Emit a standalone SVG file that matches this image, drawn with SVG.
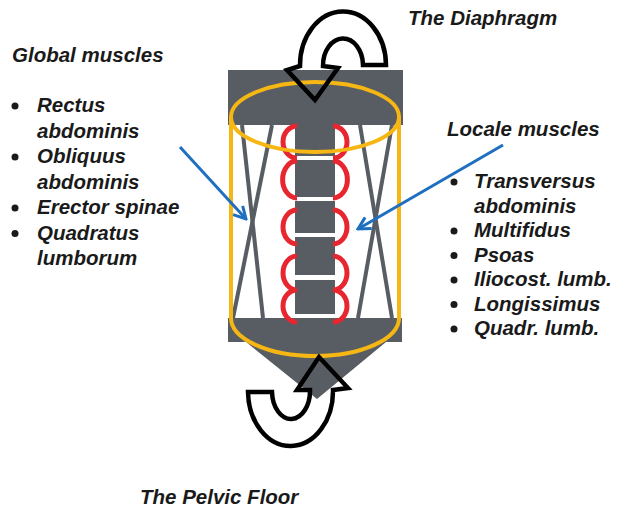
<svg xmlns="http://www.w3.org/2000/svg" width="632" height="510" viewBox="0 0 632 510">
  <style>
    .lbl { font-family: "Liberation Sans", Arial, sans-serif; font-weight: bold; font-style: italic; font-size: 20.5px; fill: #1a1a1a; }
    .plate { fill: #585d63; }
    .tie { stroke: #585d63; stroke-width: 4; fill: none; }
    .disc { stroke: #e8262f; stroke-width: 5; fill: none; stroke-linecap: butt; }
    .wall { stroke: #f6b714; stroke-width: 4; fill: none; }
    .turn { stroke: #000; stroke-width: 4.5; fill: none; stroke-linejoin: miter; }
    .pull { stroke: #1f6fc1; stroke-width: 3; fill: none; marker-end: url(#chev); }
  </style>
  <defs>
    <marker id="chev" viewBox="0 0 16 16" refX="14" refY="8" markerWidth="16" markerHeight="16" markerUnits="userSpaceOnUse" orient="auto">
      <path d="M2,1.5 L14,8 L2,14.5" fill="none" stroke="#1f6fc1" stroke-width="3"/>
    </marker>
  </defs>
  <rect width="632" height="510" fill="#fff"/>

  <!-- trunk: plates, vertebrae, ties, discs and the cylinder wall -->
  <g id="trunk">
    <rect class="plate" x="228" y="70" width="175" height="55"/>
    <rect class="plate" x="295" y="124" width="40" height="32"/>
    <rect class="plate" x="295" y="160" width="40" height="37"/>
    <rect class="plate" x="295" y="201" width="40" height="32"/>
    <rect class="plate" x="295" y="237" width="40" height="38"/>
    <rect class="plate" x="295" y="280" width="40" height="34"/>
    <polygon class="plate" points="228,318 402,318 402,342 386,342 317,399 246,342 228,342"/>

    <line class="tie" x1="242" y1="125" x2="263" y2="318"/>
    <line class="tie" x1="272" y1="125" x2="233" y2="318"/>
    <line class="tie" x1="360" y1="125" x2="392" y2="318"/>
    <line class="tie" x1="392" y1="125" x2="358" y2="318"/>

    <path class="disc" d="M297,126 A14 16 0 0 0 297,158 M297,161 A14 18 0 0 0 297,198 M297,210 A14 17 0 0 0 297,244 M297,256 A14 17 0 0 0 297,290 M297,290 A14 16 0 0 0 297,322"/>
    <path class="disc" d="M333,126 A14 16 0 0 1 333,158 M333,161 A14 18 0 0 1 333,198 M333,210 A14 17 0 0 1 333,244 M333,256 A14 17 0 0 1 333,290 M333,290 A14 16 0 0 1 333,322"/>

    <ellipse class="wall" cx="315" cy="117" rx="84" ry="35"/>
    <path class="wall" d="M231,117 L231,318 A84 38 0 0 0 399,318 L399,117"/>
  </g>

  <!-- diaphragm turn arrow -->
  <g id="diaphragm">
    <path class="turn" d="M386,65 A43 54 0 0 0 300,66 L287,70 L315,100 L338,68 L323,66 A20 27 0 0 1 363,65 Z"/>
    <text class="lbl" x="408" y="25">The Diaphragm</text>
  </g>

  <!-- pelvic floor turn arrow -->
  <g id="pelvic-floor">
    <path class="turn" d="M248,392 A42.5 55 0 0 0 333,390 L348,388 L319,357 L297,390 L310,390 A19 28 0 0 1 272,392 Z"/>
    <text class="lbl" x="140" y="504">The Pelvic Floor</text>
  </g>

  <!-- global muscles list -->
  <g id="global-muscles" class="lbl">
    <text x="12" y="62">Global muscles</text>
    <circle cx="15" cy="106" r="3.5" fill="#1a1a1a"/>
    <text x="37" y="112">Rectus</text>
    <text x="37" y="137.5">abdominis</text>
    <circle cx="15" cy="157" r="3.5" fill="#1a1a1a"/>
    <text x="37" y="163">Obliquus</text>
    <text x="37" y="188.5">abdominis</text>
    <circle cx="15" cy="208" r="3.5" fill="#1a1a1a"/>
    <text x="37" y="214">Erector spinae</text>
    <circle cx="15" cy="233.5" r="3.5" fill="#1a1a1a"/>
    <text x="37" y="239.5">Quadratus</text>
    <text x="37" y="265">lumborum</text>
  </g>

  <!-- local muscles list -->
  <g id="local-muscles" class="lbl">
    <text x="447" y="136">Locale muscles</text>
    <circle cx="454" cy="182" r="3.5" fill="#1a1a1a"/>
    <text x="474" y="188">Transversus</text>
    <text x="474" y="212.5">abdominis</text>
    <circle cx="454" cy="231" r="3.5" fill="#1a1a1a"/>
    <text x="474" y="237">Multifidus</text>
    <circle cx="454" cy="255.5" r="3.5" fill="#1a1a1a"/>
    <text x="474" y="261.5">Psoas</text>
    <circle cx="454" cy="280" r="3.5" fill="#1a1a1a"/>
    <text x="474" y="286">Iliocost. lumb.</text>
    <circle cx="454" cy="304.5" r="3.5" fill="#1a1a1a"/>
    <text x="474" y="310.5">Longissimus</text>
    <circle cx="454" cy="329" r="3.5" fill="#1a1a1a"/>
    <text x="474" y="335">Quadr. lumb.</text>
  </g>

  <!-- connectors -->
  <g id="connectors">
    <path class="pull" d="M180,147 L246,219"/>
    <path class="pull" d="M503,145 L358,229"/>
  </g>
</svg>
